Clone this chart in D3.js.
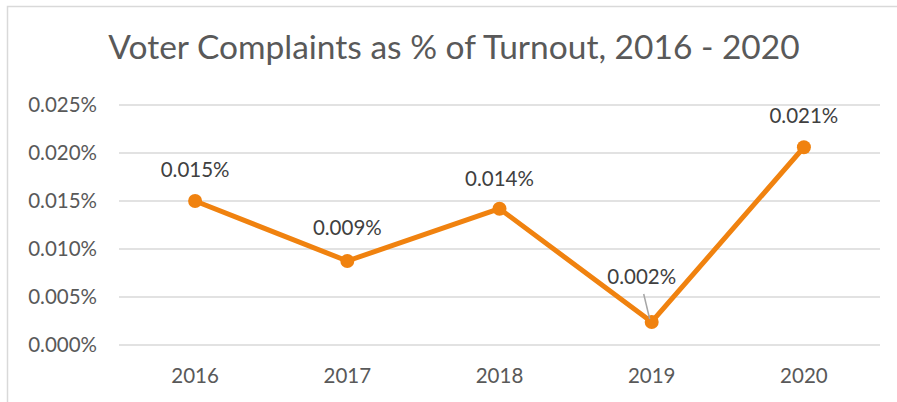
<!DOCTYPE html>
<html>
<head>
<meta charset="utf-8">
<script src="https://cdn.jsdelivr.net/npm/d3@7"></script>
<style>
  body { margin: 0; background: white; }
  text { font-family: "Lato", "Open Sans", sans-serif; }
</style>
</head>
<body>
<script>
  // chart data
  const years = ["2016", "2017", "2018", "2019", "2020"];
  const complaintPct = [0.015, 0.00875, 0.0142, 0.0024, 0.0206];
  const pointLabels = ["0.015%", "0.009%", "0.014%", "0.002%", "0.021%"];
  const yTicks = [0, 0.005, 0.010, 0.015, 0.020, 0.025];

  const width = 897, height = 402;
  const lineColor = "#F0820F";
  const textColor = "#595959";

  const svg = d3.select("body").append("svg")
    .attr("width", width)
    .attr("height", height);

  // chart border (cropped on the right/bottom)
  svg.append("rect")
    .attr("x", 7.5)
    .attr("y", 6.5)
    .attr("width", 1000)
    .attr("height", 500)
    .attr("fill", "white")
    .attr("stroke", "#d9d9d9")
    .attr("stroke-width", 1.5);

  // title
  svg.append("text")
    .attr("x", 454)
    .attr("y", 59)
    .attr("text-anchor", "middle")
    .attr("font-size", 33.5)
    .attr("fill", textColor)
    .text("Voter Complaints as % of Turnout, 2016 - 2020");

  const x = d3.scaleBand()
    .domain(years)
    .range([119, 880]);

  const y = d3.scaleLinear()
    .domain([0, 0.025])
    .range([345, 105]);

  // gridlines
  svg.append("g")
    .selectAll("line")
    .data(yTicks)
    .enter()
    .append("line")
      .attr("x1", 119)
      .attr("x2", 880)
      .attr("y1", (d) => y(d))
      .attr("y2", (d) => y(d))
      .attr("stroke", "#d9d9d9")
      .attr("stroke-width", 1.5);

  // y axis labels
  const yAxis = d3.axisLeft(y)
    .tickValues(yTicks)
    .tickFormat((d) => (d).toFixed(3) + "%")
    .tickSize(0)
    .tickPadding(22);

  const gy = svg.append("g")
    .attr("transform", "translate(119, 0)")
    .call(yAxis);
  gy.select(".domain").remove();
  gy.selectAll("text")
    .attr("font-size", 20.5)
    .attr("fill", textColor)
    .style("font-family", "Lato, sans-serif");

  // x axis labels
  const xAxis = d3.axisBottom(x)
    .tickSize(0)
    .tickPadding(23);

  const gx = svg.append("g")
    .attr("transform", "translate(0, 345)")
    .call(xAxis);
  gx.select(".domain").remove();
  gx.selectAll("text")
    .attr("font-size", 20.5)
    .attr("fill", textColor)
    .style("font-family", "Lato, sans-serif");

  const cx = (d, i) => x(years[i]) + x.bandwidth() / 2;

  // the line
  const line = d3.line()
    .x((d, i) => cx(d, i))
    .y((d) => y(d));

  svg.append("path")
    .datum(complaintPct)
    .attr("d", line)
    .attr("fill", "none")
    .attr("stroke", lineColor)
    .attr("stroke-width", 5)
    .attr("stroke-linejoin", "round");

  // markers
  svg.selectAll(".dot")
    .data(complaintPct)
    .enter()
    .append("circle")
      .attr("cx", cx)
      .attr("cy", (d) => y(d))
      .attr("r", 7)
      .attr("fill", lineColor);

  // leader line for the 2019 label
  svg.append("line")
    .attr("x1", cx(complaintPct[3], 3) - 8)
    .attr("y1", y(complaintPct[3]) - 28)
    .attr("x2", cx(complaintPct[3], 3) - 2)
    .attr("y2", y(complaintPct[3]) - 3)
    .attr("stroke", "#a6a6a6")
    .attr("stroke-width", 1.5);

  // data labels (offsets relative to each point)
  const labelDx = [0, 0, 0, -10, 0];
  const labelDy = [-24, -26, -23, -38, -24];

  svg.selectAll(".label")
    .data(complaintPct)
    .enter()
    .append("text")
      .attr("class", "label")
      .attr("x", (d, i) => cx(d, i) + labelDx[i])
      .attr("y", (d, i) => y(d) + labelDy[i])
      .attr("text-anchor", "middle")
      .attr("font-size", 20.5)
      .attr("fill", "#404040")
      .text((d, i) => pointLabels[i]);
</script>
</body>
</html>
